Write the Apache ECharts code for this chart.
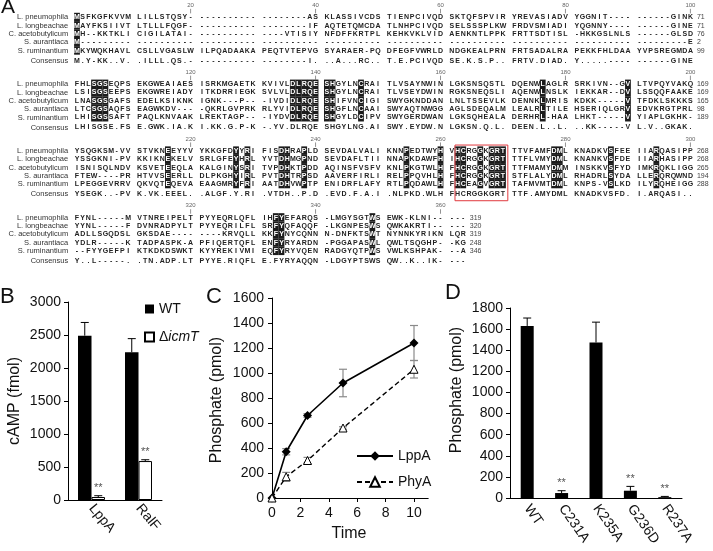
<!DOCTYPE html>
<html><head><meta charset="utf-8">
<script src="https://cdn.jsdelivr.net/npm/echarts@6/dist/echarts.min.js"></script>
<style>html,body{margin:0;padding:0;background:#fff}#c{width:713px;height:551px}</style>
</head><body><div id="c"></div>
<script>
// ---------------- Panel A data ----------------
const species = ['L. pneumophila','L. longbeachae','C. acetobutylicum','S. aurantiaca','S. ruminantium'];
const consensusName = 'Consensus';
const seqBlock1 = [
 'MSFKGFKVVM LILLSTQSY- ---------- --------AS KLASSIVCDS TIENPCIVQD SKTQFSPVIR YREVASIADV YGGNIT---- ------GINK',
 'MAYFKSIIVT LTLLLFQGF- ---------- --------IF AQTETQMCDA TLNHPCIVQD SELSSSPLKW FRDVSMIADI YQGNNY---- ------GINE',
 'MH--KKTKLI CIGILATAI- ---------- ----VTISIY NFDFFKRTPL KEHKVKLVID AENKNTLPPK FRTTSDTISL -HKKGSLNLS ------GLSD',
 'M--------- ---------- ---------- ---------- ---------- ---------- ---------- ---------- ---------- ---------E',
 'MKYWQKHAVL CSLLVGASLW ILPQADAAKA PEQTVTEPVG SYARAER-PQ DFEGFVWRLD NDGKEALPRN FRTSADALRA PEKKFHLDAA YVPSREGMDA'
];
const seqBlock2 = [
 'FHLSGSEQPS EKGWEAIAES ISRKMGAETK KVIVLDLRQE SHGYLNCRAI TLVSAYNWIN LGKSNSQSTL DQENWLAGLR SRKIVN--GV LTVPQYVAKQ',
 'LSISGSEEPS EKGWREIADY ITKDRRIEGK SVLVLDLRQE SHGYLNCRAI TLVSEYDWIN RGKSNEQSLI AQENWLNSLK IEKKAR--DV LSSQQFAAKE',
 'LNASGSGAFS EDELKSIKNK IGNK---P-- -IVDIDLRQE SHIFVNCIGI SWYGKNDDAN LNLTSSEVLK DENNKLMRIS KDKK-----V TFDKLSKKKS',
 'LTCSGSAQFS EAGWKDV--- -QKRLGVPRK RLYVIDLRQE SHGFLNCAAI SWYAQTNWGG AGLSDEQALM LEALRLTILE HSERIQLGRV EDVKRGTPRL',
 'LHISGSSAFT PAQLKNVAAK LREKTAGP-- -IYDVDLRQE SHGYLDCIPV SWYGERDWAN LGKSQHEALA DERHRL-HAA LHKT-----V YIAPLGKHK-'
];
const seqBlock3 = [
 'YSQGKSM-VV STVKNEEYYV YKKGFDYYRI FISDHRAPLD SEVDALVALI KNNPEDTWYH VHCRGGKGRT TTVFAMFDML KNADKVSFEE IIARQASIPP',
 'YSSGKNI-PV KKIKNEKELV SRLGFEYHRL YVTDHMGPND SEVDAFLTII NNAPKDAWFH IHCRGGKGRT TTFLVMYDML KNANKVSFDE IIARHASIPP',
 'ISNISQLNDV KSVETEEQLA KALGINYSRI TVPDHKTPDD AQINSFVSFV KNLPKGTWLH FHCRGGKGRT TTFMAMYDMM INSKKVSFYD IMKRQKLIGG',
 'FTEW----PR HTVVSEERLL DLPKGHYIRL PVTDHTRPSD AAVERFIRLI RELPPQVHLH FHCRGGKGRT STFLALYDML RHADRLSYDA LLERQRQWND',
 'LPEGGEVRRV QKVQTEQEVA EAAGMRYFRI AATDHVWPTP ENIDRFLAFY RTLPQDAWLH FHCEAGVGRT TAFMVMTDML KNPS-VSLKD ILYRQHEIGG'
];
const seqBlock4 = [
 'FYNL-----M VTNREIPELT PYYEQRLQFL IHFYEFARQS -LMGYSGTWS EWK-KLNI-- ---',
 'YYNL-----F DVNRADPYLT PYYEQRILFL SRFYQFAQQF -LKGNPESWS QWKAKRTI-- ---',
 'ADLLSGQDSL GKSDAE---- ----KRVQLL KKFYNYCQNN N-DNFKTSWT NYNNKYRIKN LQR',
 'YDLR-----K TADPASPK-A PFIQERTQFL ENFYRYARDN -PGGAPASWL QWLTSQGHP- -KG',
 '--FYYGEFPI KTKDKDSWKT KYYREKIVMI EQFYRYVQEN RADGYQTPWS VWLKSHPAK- --A'
];
const consensusSeqs = [
 'M.Y-KK..V. .ILLL.QS.- ---------- --------I. ..A...RC.. T.E.PCIVQD SE.K.S.P.. FRTV.DIAD. Y.....---- ------GINE',
 'LHISGSE.FS E.GWK.IA.K I.KK.G.P-K -.YV.DLRQE SHGYLNG.AI SWY.EYDW.N LGKSN.Q.L. DEEN.L..L. ..KK-----V L.V..GKAK.',
 'YSEGK..-PV K.VK.EEEL. .ALGF.Y.RI .VTDH..P.D .EVD.F.A.I .NLPKD.WLH FHCRGGKGRT TTF.AMYDML KNADKVSFD. I.ARQASI..',
 'Y..L-----. .TN.ADP.LT PYYE.RIQFL E.FYRYAQQN -LDGYPTSWS QW..K..IK- ---'
];
const endCounts = [[71,71,76,2,99],[169,169,165,98,189],[268,268,265,194,288],[319,320,319,248,346]];
const conservedCols = [
 [0],
 [3,4,5,35,36,37,38,39,40,41,46,75,89],
 [15,26,28,33,34,37,53,59,61,62,65,67,68,69,77,78,86,93],
 [32,33,48]
];
const rulerMarks = [[20,40,60,80,100],[120,140,160,180,200],[220,240,260,280,300],[320,340,360]];
const motifBlock = 2; // boxed motif HCxxxxGRT

// ---------------- Panel B data ----------------
const catsB = ['LppA','RalF'];
const wtB = [2490, 2240];
const wtBErr = [200, 205];
const icmB = [45, 590];
const icmBErr = [20, 20];
const icmBSig = ['**','**'];

// ---------------- Panel C data ----------------
const timeC = [0, 1, 2.5, 5, 10];
const lppaC = [0, 370, 660, 920, 1240];
const lppaErr = [0, 25, 15, 110, 140];
const phyaC = [0, 170, 300, 560, 1030];
const phyaErr = [0, 35, 25, 10, 70];

// ---------------- Panel D data ----------------
const catsD = ['WT','C231A','K235A','G236D','R237A'];
const valsD = [1630, 47, 1473, 69, 8];
const errD = [75, 22, 193, 41, 7];
const sigD = ['', '**', '', '**', '**'];

// ---------------- layout helpers (panel A) ----------------
const blocks = [seqBlock1, seqBlock2, seqBlock3, seqBlock4];
const BLOCK_LINES = 8, FIRST_LINE = 2.04, CONS_OFF = 5.2, RULER_OFF = -1.4;
const slotOf = i => i + Math.floor(i / 10);
const items = [];
blocks.forEach((rows, b) => {
  const base = FIRST_LINE + b * BLOCK_LINES;
  rows.forEach((s, r) => {
    const str = s.replace(/ /g, '');
    for (let i = 0; i < str.length; i++) {
      items.push({k: 'res', s: slotOf(i), l: base + r, t: str[i], hl: conservedCols[b].indexOf(i) >= 0});
    }
    items.push({k: 'lab', s: -1.55, l: base + r, t: species[r]});
    items.push({k: 'num', s: slotOf(str.length - 1) + 1.15, l: base + r, t: String(endCounts[b][r])});
  });
  const c = consensusSeqs[b].replace(/ /g, '');
  for (let i = 0; i < c.length; i++) items.push({k: 'res', s: slotOf(i), l: base + CONS_OFF, t: c[i], hl: false});
  items.push({k: 'lab', s: -1.55, l: base + CONS_OFF, t: consensusName});
  rulerMarks[b].forEach(n => items.push({k: 'rul', s: slotOf(n - 1 - b * 100), l: base + RULER_OFF, t: String(n)}));
  if (b === motifBlock) items.push({k: 'box', s: 66.55, l: base - 0.67, s2: 75.85, l2: base + 6.0});
});

function renderAln(params, api) {
  const it = items[params.dataIndex];
  const p = api.coord([it.s, it.l]);
  if (it.k === 'res') {
    const ch = [];
    if (it.hl) ch.push({type: 'rect', shape: {x: p[0] - 2.9, y: p[1] - 4.25, width: 5.8, height: 8.5}, style: {fill: '#1c1c1c'}});
    ch.push({type: 'text', x: p[0], y: p[1] + 0.3, style: {text: it.t, align: 'center', verticalAlign: 'middle', fill: it.hl ? '#fff' : '#222', font: 'bold 7px "Liberation Sans", Arial'}});
    return {type: 'group', children: ch};
  }
  if (it.k === 'lab') return {type: 'text', x: p[0], y: p[1] + 0.3, style: {text: it.t, align: 'right', verticalAlign: 'middle', fill: '#333', font: '7.5px "Liberation Sans", Arial'}};
  if (it.k === 'num') return {type: 'text', x: p[0], y: p[1] + 0.3, style: {text: it.t, align: 'left', verticalAlign: 'middle', fill: '#444', font: '7px "Liberation Sans", Arial'}};
  if (it.k === 'rul') return {type: 'group', children: [
    {type: 'text', x: p[0], y: p[1], style: {text: it.t, align: 'center', verticalAlign: 'middle', fill: '#666', font: '6px "Liberation Sans", Arial'}},
    {type: 'line', shape: {x1: p[0], y1: p[1] + 3.5, x2: p[0], y2: p[1] + 8}, style: {stroke: '#777', lineWidth: 0.8}}
  ]};
  if (it.k === 'box') {
    const q = api.coord([it.s2, it.l2]);
    return {type: 'rect', shape: {x: p[0], y: p[1], width: q[0] - p[0], height: q[1] - p[1]}, style: {fill: 'none', stroke: '#e0393e', lineWidth: 1}};
  }
  return null;
}

function upErr(offset, sig, color) {
  return function (params, api) {
    const i = params.dataIndex;
    const b = api.coord([api.value(0), api.value(1)]);
    const t = api.coord([api.value(0), api.value(1) + api.value(2)]);
    const x = b[0] + offset;
    const ch = [
      {type: 'line', shape: {x1: x, y1: b[1], x2: x, y2: t[1]}, style: {stroke: color, lineWidth: 1}},
      {type: 'line', shape: {x1: x - 4, y1: t[1], x2: x + 4, y2: t[1]}, style: {stroke: color, lineWidth: 1}}
    ];
    if (sig && sig[i]) ch.push({type: 'text', x: x, y: t[1] - 2, style: {text: sig[i], align: 'center', verticalAlign: 'bottom', fill: '#555', font: '11px "Liberation Sans", Arial'}});
    return {type: 'group', children: ch};
  };
}
function twoErr(params, api) {
  if (api.value(2) <= 0) return null;
  const lo = api.coord([api.value(0), api.value(1) - api.value(2)]);
  const hi = api.coord([api.value(0), api.value(1) + api.value(2)]);
  const x = lo[0];
  const st = {stroke: '#8a8a8a', lineWidth: 1.2};
  return {type: 'group', children: [
    {type: 'line', shape: {x1: x, y1: lo[1], x2: x, y2: hi[1]}, style: st},
    {type: 'line', shape: {x1: x - 4, y1: lo[1], x2: x + 4, y2: lo[1]}, style: st},
    {type: 'line', shape: {x1: x - 4, y1: hi[1], x2: x + 4, y2: hi[1]}, style: st}
  ]};
}

const FONT = '"Liberation Sans", Arial, sans-serif';
const axLine = {show: true, lineStyle: {color: '#000', width: 1}};
const tick = {show: true, length: 4, lineStyle: {color: '#000'}};
const lab = {fontSize: 14, color: '#111', fontFamily: FONT};
const plain = v => String(v);

const chart = echarts.init(document.getElementById('c'), null, {renderer: 'canvas'});
chart.setOption({
  animation: false,
  textStyle: {fontFamily: FONT},
  grid: [
    {left: 74.16, top: 0, width: 619.1, height: 300.6, outerBoundsMode: 'none'},
    {left: 68, top: 302, width: 94, height: 198, outerBoundsMode: 'none'},
    {left: 272, top: 298, width: 156.2, height: 200, outerBoundsMode: 'none'},
    {left: 510, top: 308, width: 172, height: 190, outerBoundsMode: 'none'}
  ],
  xAxis: [
    {gridIndex: 0, type: 'value', min: -0.5, max: 108.5, show: false},
    {gridIndex: 1, type: 'category', data: catsB, axisLine: axLine, axisTick: {show: false},
     axisLabel: Object.assign({rotate: -50, interval: 0, margin: 6}, lab)},
    {gridIndex: 2, type: 'value', min: 0, max: 11, interval: 2, axisLine: axLine, axisTick: tick, splitLine: {show: false},
     axisLabel: Object.assign({margin: 8, showMaxLabel: false, formatter: plain}, lab)},
    {gridIndex: 3, type: 'category', data: catsD, axisLine: axLine, axisTick: {show: false},
     axisLabel: Object.assign({rotate: -55, interval: 0, margin: 8}, lab)}
  ],
  yAxis: [
    {gridIndex: 0, type: 'value', min: 0, max: 36, inverse: true, show: false},
    {gridIndex: 1, type: 'value', min: 0, max: 3000, interval: 500, axisLine: axLine, axisTick: tick, splitLine: {show: false}, axisLabel: Object.assign({margin: 7, formatter: plain}, lab)},
    {gridIndex: 2, type: 'value', min: 0, max: 1600, interval: 200, axisLine: axLine, axisTick: tick, splitLine: {show: false}, axisLabel: Object.assign({margin: 8, formatter: plain}, lab)},
    {gridIndex: 3, type: 'value', min: 0, max: 1800, interval: 200, axisLine: axLine, axisTick: tick, splitLine: {show: false}, axisLabel: Object.assign({margin: 7, formatter: plain}, lab)}
  ],
  legend: [
    {data: ['WT', 'ΔicmT'], orient: 'vertical', left: 139, top: 297, icon: 'rect', itemWidth: 9, itemHeight: 9, itemGap: 14,
     textStyle: {fontSize: 14, color: '#111', fontFamily: FONT, rich: {d: {fontSize: 14, fontFamily: FONT}, i: {fontSize: 14, fontStyle: 'italic', fontFamily: FONT}}},
     formatter: n => n === 'WT' ? 'WT' : '{d|Δ}{i|icmT}'},
    {data: ['LppA', 'PhyA'], orient: 'vertical', left: 351, top: 444, itemWidth: 36, itemHeight: 12, itemGap: 12,
     textStyle: {fontSize: 14, color: '#111', fontFamily: FONT}}
  ],
  graphic: [
    {type: 'text', left: 1, top: -3, style: {text: 'A', font: '21px ' + FONT, fill: '#111'}},
    {type: 'text', left: 0, top: 286, style: {text: 'B', font: '22px ' + FONT, fill: '#111'}},
    {type: 'text', left: 206, top: 286, style: {text: 'C', font: '22px ' + FONT, fill: '#111'}},
    {type: 'text', left: 445, top: 282, style: {text: 'D', font: '22px ' + FONT, fill: '#111'}},
    {type: 'text', x: 15, y: 401, rotation: Math.PI / 2, style: {text: 'cAMP (fmol)', align: 'center', verticalAlign: 'middle', font: '16px ' + FONT, fill: '#111'}},
    {type: 'text', x: 217, y: 400, rotation: Math.PI / 2, style: {text: 'Phosphate (pmol)', align: 'center', verticalAlign: 'middle', font: '16px ' + FONT, fill: '#111'}},
    {type: 'text', x: 457, y: 390, rotation: Math.PI / 2, style: {text: 'Phosphate (pmol)', align: 'center', verticalAlign: 'middle', font: '16px ' + FONT, fill: '#111'}},
    {type: 'text', x: 349, y: 534, style: {text: 'Time', align: 'center', verticalAlign: 'middle', font: '16px ' + FONT, fill: '#111'}}
  ],
  series: [
    {type: 'custom', xAxisIndex: 0, yAxisIndex: 0, renderItem: renderAln, data: items.map(it => [it.s, it.l]), progressive: 0, silent: true, clip: false},
    // B
    {name: 'WT', type: 'bar', xAxisIndex: 1, yAxisIndex: 1, data: wtB, barWidth: 13.5, barGap: '0%', itemStyle: {color: '#000'}},
    {name: 'ΔicmT', type: 'bar', xAxisIndex: 1, yAxisIndex: 1, data: icmB, barWidth: 13.5, barGap: '0%', itemStyle: {color: '#fff', borderColor: '#000', borderWidth: 1}},
    {type: 'custom', xAxisIndex: 1, yAxisIndex: 1, renderItem: upErr(-6.75, null, '#000'), data: wtB.map((v, i) => [i, v, wtBErr[i]]), z: 3},
    {type: 'custom', xAxisIndex: 1, yAxisIndex: 1, renderItem: upErr(6.75, icmBSig, '#000'), data: icmB.map((v, i) => [i, v, icmBErr[i]]), z: 3},
    // C
    {type: 'custom', xAxisIndex: 2, yAxisIndex: 2, renderItem: twoErr, data: timeC.map((t, i) => [t, lppaC[i], lppaErr[i]]), z: 1},
    {type: 'custom', xAxisIndex: 2, yAxisIndex: 2, renderItem: twoErr, data: timeC.map((t, i) => [t, phyaC[i], phyaErr[i]]), z: 1},
    {name: 'LppA', type: 'line', xAxisIndex: 2, yAxisIndex: 2, data: timeC.map((t, i) => [t, lppaC[i]]), symbol: 'diamond', symbolSize: 9,
     itemStyle: {color: '#000'}, lineStyle: {color: '#000', width: 1.6}, z: 3},
    {name: 'PhyA', type: 'line', xAxisIndex: 2, yAxisIndex: 2, data: timeC.map((t, i) => [t, phyaC[i]]), symbol: 'triangle', symbolSize: 8,
     itemStyle: {color: '#fff', borderColor: '#000', borderWidth: 1}, lineStyle: {color: '#000', width: 1.4, type: [5, 3]}, z: 3},
    // D
    {type: 'bar', xAxisIndex: 3, yAxisIndex: 3, data: valsD, barWidth: 13, itemStyle: {color: '#000'}},
    {type: 'custom', xAxisIndex: 3, yAxisIndex: 3, renderItem: upErr(0, sigD, '#000'), data: valsD.map((v, i) => [i, v, errD[i]]), z: 3}
  ]
});
</script></body></html>
